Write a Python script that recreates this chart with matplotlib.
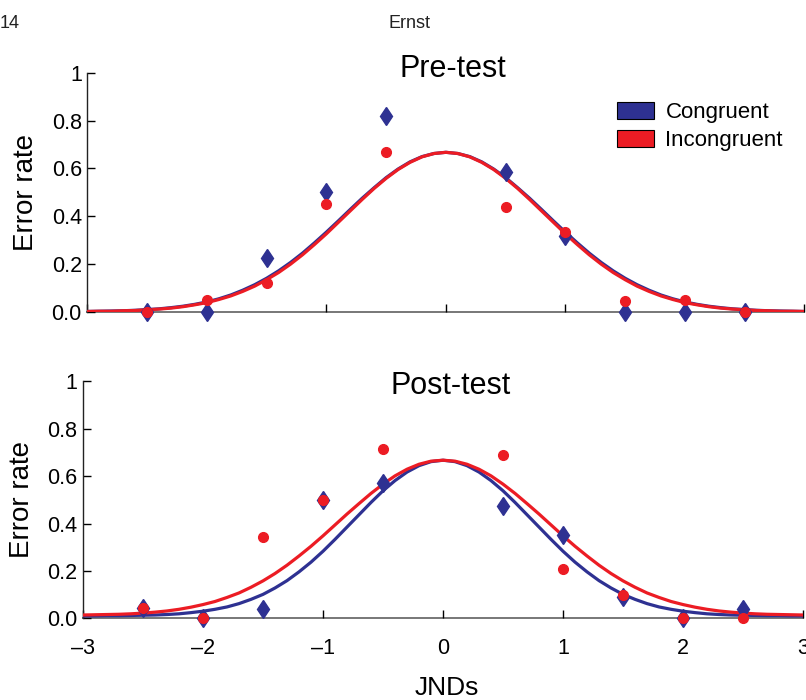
import numpy as np
import matplotlib
matplotlib.use('Agg')
import matplotlib.pyplot as plt
from matplotlib.patches import Patch

plt.rcParams['font.family'] = ['Liberation Sans', 'DejaVu Sans']

# measured error rates at each JND offset
jnd = [-2.5, -2.0, -1.5, -1.0, -0.5, 0.5, 1.0, 1.5, 2.0, 2.5]
pre_congruent = [0.0, 0.0, 0.225, 0.50, 0.82, 0.585, 0.315, 0.0, 0.0, 0.0]
pre_incongruent = [0.0, 0.05, 0.12, 0.45, 0.67, 0.44, 0.335, 0.045, 0.048, 0.0]
post_congruent = [0.045, 0.0, 0.04, 0.50, 0.57, 0.475, 0.35, 0.09, 0.0, 0.04]
post_incongruent = [0.045, 0.0, 0.345, 0.50, 0.715, 0.69, 0.21, 0.10, 0.0, 0.0]

# fitted curves, every 0.1 JND from -3 to 3
curve_x = np.linspace(-3, 3, 61)
pre_congruent_fit = [
    0.001, 0.002, 0.003, 0.004, 0.006, 0.009, 0.012, 0.017, 0.023, 0.031,
    0.041, 0.054, 0.070, 0.090, 0.113, 0.140, 0.171, 0.206, 0.245, 0.288,
    0.333, 0.380, 0.428, 0.475, 0.519, 0.561, 0.597, 0.627, 0.649, 0.662,
    0.667,
    0.662, 0.649, 0.627, 0.597, 0.561, 0.519, 0.475, 0.428, 0.380, 0.333,
    0.288, 0.245, 0.206, 0.171, 0.140, 0.113, 0.090, 0.070, 0.054, 0.041,
    0.031, 0.023, 0.017, 0.012, 0.009, 0.006, 0.004, 0.003, 0.002, 0.001]
pre_incongruent_fit = [
    0.001, 0.002, 0.002, 0.004, 0.005, 0.008, 0.011, 0.015, 0.021, 0.029,
    0.038, 0.051, 0.066, 0.085, 0.107, 0.134, 0.164, 0.199, 0.238, 0.281,
    0.326, 0.374, 0.422, 0.470, 0.516, 0.558, 0.595, 0.625, 0.648, 0.662,
    0.667,
    0.662, 0.648, 0.625, 0.595, 0.558, 0.516, 0.470, 0.422, 0.374, 0.326,
    0.281, 0.238, 0.199, 0.164, 0.134, 0.107, 0.085, 0.066, 0.051, 0.038,
    0.029, 0.021, 0.015, 0.011, 0.008, 0.005, 0.004, 0.002, 0.002, 0.001]
post_congruent_fit = [
    0.010, 0.010, 0.011, 0.011, 0.012, 0.013, 0.014, 0.016, 0.019, 0.024,
    0.030, 0.038, 0.048, 0.062, 0.080, 0.101, 0.128, 0.159, 0.196, 0.237,
    0.283, 0.333, 0.385, 0.437, 0.489, 0.538, 0.581, 0.617, 0.644, 0.661,
    0.667,
    0.661, 0.644, 0.617, 0.581, 0.538, 0.489, 0.437, 0.385, 0.333, 0.283,
    0.237, 0.196, 0.159, 0.128, 0.101, 0.080, 0.062, 0.048, 0.038, 0.030,
    0.024, 0.019, 0.016, 0.014, 0.013, 0.012, 0.011, 0.011, 0.010, 0.010]
post_incongruent_fit = [
    0.014, 0.015, 0.016, 0.017, 0.019, 0.022, 0.026, 0.031, 0.038, 0.047,
    0.058, 0.071, 0.088, 0.107, 0.131, 0.158, 0.189, 0.224, 0.263, 0.304,
    0.348, 0.394, 0.440, 0.484, 0.527, 0.566, 0.601, 0.629, 0.650, 0.663,
    0.667,
    0.663, 0.650, 0.629, 0.601, 0.566, 0.527, 0.484, 0.440, 0.394, 0.348,
    0.304, 0.263, 0.224, 0.189, 0.158, 0.131, 0.107, 0.088, 0.071, 0.058,
    0.047, 0.038, 0.031, 0.026, 0.022, 0.019, 0.017, 0.016, 0.015, 0.014]

x_ticks = [-3, -2, -1, 0, 1, 2, 3]
x_ticklabels = ['\u20133', '\u20132', '\u20131', '0', '1', '2', '3']
y_ticks = [0, 0.2, 0.4, 0.6, 0.8, 1.0]
y_ticklabels = ['0.0', '0.2', '0.4', '0.6', '0.8', '1']

blue = '#2e3192'
red = '#ec1c24'


def draw_panel(ax, cong, incong, cong_fit, incong_fit, title, title_y, show_x):
    ax.plot(curve_x, cong_fit, color=blue, lw=2.3, zorder=3, solid_joinstyle='round')
    ax.plot(curve_x, incong_fit, color=red, lw=2.3, zorder=3, solid_joinstyle='round')
    ax.plot(jnd, cong, 'd', color=blue, ms=9.5, mec=blue, zorder=4, clip_on=False)
    ax.plot(jnd, incong, 'o', color=red, ms=7, mec=red, zorder=5, clip_on=False)

    ax.set_xlim(-3, 3)
    ax.set_ylim(0, 1)
    for s in ['top', 'right']:
        ax.spines[s].set_visible(False)
    ax.spines['left'].set_color('#222222')
    ax.spines['left'].set_linewidth(1.0)
    ax.spines['bottom'].set_color('#777777')
    ax.spines['bottom'].set_linewidth(1.4)
    ax.spines['bottom'].set_zorder(1)

    ax.set_yticks(y_ticks)
    ax.set_yticklabels(y_ticklabels)
    ax.set_xticks(x_ticks)
    if show_x:
        ax.set_xticklabels(x_ticklabels)
    else:
        ax.set_xticklabels([])
    ax.tick_params(axis='y', direction='in', length=6, width=1, color='black',
                   labelsize=15.5, pad=4)
    ax.tick_params(axis='x', direction='in', length=6, width=1, color='black',
                   labelsize=15.5, pad=14)

    ax.set_ylabel('Error rate', fontsize=20)
    ax.yaxis.set_label_coords(-0.067, 0.5)
    ax.text(0.51, title_y, title, transform=ax.transAxes, ha='center', va='baseline',
            fontsize=22)


fig = plt.figure(figsize=(8.06, 7), dpi=100)
ax1 = fig.add_axes([0.1084, 0.5547, 0.8896, 0.3414])
ax2 = fig.add_axes([0.1030, 0.1167, 0.8933, 0.3386])

draw_panel(ax1, pre_congruent, pre_incongruent, pre_congruent_fit, pre_incongruent_fit,
           'Pre-test', 0.983, False)
draw_panel(ax2, post_congruent, post_incongruent, post_congruent_fit, post_incongruent_fit,
           'Post-test', 0.945, True)

ax2.set_xlabel('JNDs', fontsize=19, va='baseline')
ax2.xaxis.set_label_coords(0.505, -0.322)

handles = [Patch(facecolor=blue, edgecolor='black', lw=0.8, label='Congruent'),
           Patch(facecolor=red, edgecolor='black', lw=0.8, label='Incongruent')]
ax1.legend(handles=handles, loc='upper left', bbox_to_anchor=(0.738, 0.878), frameon=False,
           fontsize=16, handlelength=1.7, handleheight=0.8, handletextpad=0.5,
           labelspacing=0.3, borderpad=0, borderaxespad=0)

# page header from the journal scan
fig.text(0.0, 1 - 28 / 700, '14', fontsize=13, va='baseline', ha='left', color='#222222')
fig.text(410 / 806, 1 - 28 / 700, 'Ernst', fontsize=13, va='baseline', ha='center',
         color='#222222')

fig.savefig('out.png', dpi=100)
